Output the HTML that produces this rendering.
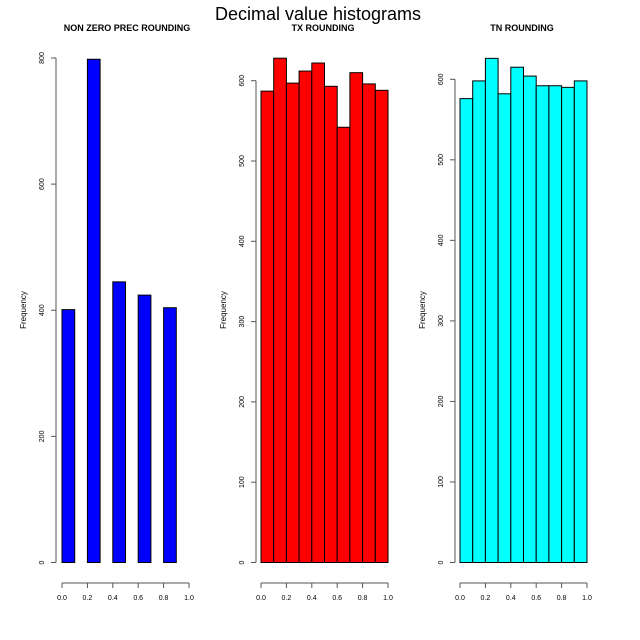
<!DOCTYPE html>
<html><head><meta charset="utf-8"><style>
html,body{margin:0;padding:0;background:#fff}
svg{display:block;font-family:"Liberation Sans",sans-serif}
</style></head><body>
<svg id="c" width="640" height="640" viewBox="0 0 640 640">
<text x="318" y="20" font-size="18" text-anchor="middle">Decimal value histograms</text>
</svg>
<script>
const titles=["NON ZERO PREC ROUNDING","TX ROUNDING","TN ROUNDING"];
const colors=["#0000ff","#ff0000","#00ffff"];
const counts1=[401,0,798,0,445,0,424,0,404,0];
const counts2=[587,628,597,612,622,593,542,610,596,588];
const counts3=[576,598,626,582,615,604,592,592,590,598];
const breaks=[0,0.1,0.2,0.3,0.4,0.5,0.6,0.7,0.8,0.9,1.0];
const xTicks=[0,0.2,0.4,0.6,0.8,1.0];
const yTicks1=[0,200,400,600,800];
const yTicks2=[0,100,200,300,400,500,600];
const panels=[
 {counts:counts1,yTicks:yTicks1,x0:62,axisX:56,ymax:800,ymaxY:58,cx:127},
 {counts:counts2,yTicks:yTicks2,x0:261,axisX:256,ymax:600,ymaxY:80.7,cx:323},
 {counts:counts3,yTicks:yTicks2,x0:460,axisX:455,ymax:600,ymaxY:79.3,cx:522}
];
const svg=document.getElementById('c');
const NS="http://www.w3.org/2000/svg";
function mk(t,a,p){const e=document.createElementNS(NS,t);for(const k in a)e.setAttribute(k,a[k]);(p||svg).appendChild(e);return e;}
const base=562.5;
panels.forEach((p,i)=>{
 const g=mk('g',{});
 
 
 const xs=v=>p.x0+v*127;
 const ys=v=>base-v*(base-p.ymaxY)/p.ymax;
 const t=mk('text',{x:p.cx,y:31,'font-size':9,'font-weight':'bold','text-anchor':'middle'},g);
 t.textContent=titles[i];
 
 
 for(let j=0;j<p.counts.length;j++){
  const r=mk('rect',{x:xs(breaks[j]),y:ys(p.counts[j]),width:xs(breaks[j+1])-xs(breaks[j]),height:base-ys(p.counts[j]),fill:colors[i],stroke:'#000','stroke-width':1},g);
  
  
 }
 const ya=mk('g',{},g);
 
 
 const yt=p.yTicks;
 mk('line',{x1:p.axisX,x2:p.axisX,y1:ys(yt[0]),y2:ys(yt[yt.length-1]),stroke:'#555'},ya);
 yt.forEach(v=>{
  mk('line',{x1:p.axisX-5,x2:p.axisX,y1:ys(v),y2:ys(v),stroke:'#555'},ya);
  const l=mk('text',{x:0,y:0,'font-size':7,'text-anchor':'middle',transform:`translate(${p.axisX-12},${ys(v)}) rotate(-90)`},ya);
  l.textContent=v;
 });
 const yl=mk('text',{x:0,y:0,'font-size':8,'text-anchor':'middle',transform:`translate(${p.axisX-30},310) rotate(-90)`},g);
 yl.textContent='Frequency';
 
 
 const xa=mk('g',{},g);
 
 
 mk('line',{x1:xs(0),x2:xs(1),y1:583,y2:583,stroke:'#555'},xa);
 xTicks.forEach(v=>{
  mk('line',{x1:xs(v),x2:xs(v),y1:583,y2:588,stroke:'#555'},xa);
  const l=mk('text',{x:xs(v),y:600,'font-size':7,'text-anchor':'middle'},xa);
  l.textContent=v.toFixed(1);
 });
});
</script>
</body></html>
